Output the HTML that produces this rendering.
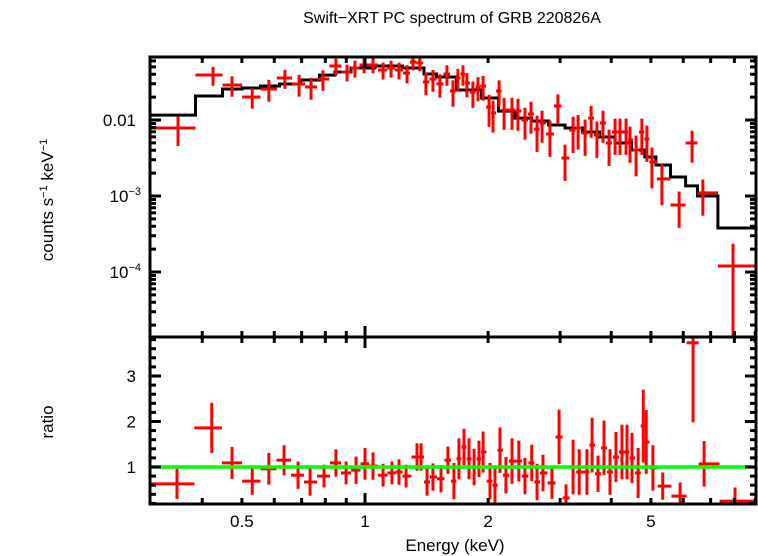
<!DOCTYPE html>
<html><head><meta charset="utf-8"><style>
body{margin:0;background:#fff}
svg{display:block}
text{font-family:"Liberation Sans",Arial,sans-serif;fill:#000}
</style></head><body>
<svg id="chart" width="758" height="556" viewBox="0 0 758 556" xmlns="http://www.w3.org/2000/svg">
<text x="452" y="23" font-size="16" text-anchor="middle">Swift−XRT PC spectrum of GRB 220826A</text>
<text x="455" y="551" font-size="17" text-anchor="middle">Energy (keV)</text>
<text transform="translate(53,200) rotate(-90)" font-size="17" text-anchor="middle">counts s<tspan font-size="11" dy="-6">−1</tspan><tspan dy="6"> keV</tspan><tspan font-size="11" dy="-6">−1</tspan></text>
<text transform="translate(53,422) rotate(-90)" font-size="17" text-anchor="middle">ratio</text>
<g id="g"></g>
</svg>
<script>
const topE=[0.349,0.425,0.473,0.530,0.582,0.637,0.690,0.738,0.789,0.849,0.904,0.945,0.995,1.046,1.107,1.158,1.211,1.267,1.310,1.362,1.409,1.466,1.525,1.586,1.641,1.687,1.736,1.775,1.836,1.889,1.944,2.011,2.056,2.127,2.188,2.288,2.366,2.461,2.546,2.634,2.710,2.833,2.963,3.083,3.227,3.319,3.452,3.572,3.690,3.818,3.951,4.087,4.202,4.348,4.446,4.600,4.753,4.890,5.030,5.321,5.862,6.305,6.700,7.94];
const topCounts=[0.00785,0.0391,0.0289,0.0201,0.0256,0.0357,0.0298,0.0272,0.0346,0.0514,0.0428,0.0483,0.053,0.053,0.0455,0.0483,0.0455,0.0415,0.058,0.0562,0.0316,0.0346,0.0298,0.0403,0.0241,0.0357,0.0403,0.0307,0.0233,0.0272,0.028,0.0148,0.0124,0.0241,0.0135,0.0135,0.0131,0.0100,0.0120,0.0076,0.00914,0.00654,0.0153,0.00316,0.00738,0.00785,0.00675,0.0106,0.00635,0.00914,0.00498,0.00695,0.00695,0.00695,0.00546,0.00403,0.00695,0.00562,0.0028,0.00168,0.000762,0.00498,0.0011,0.00012];
const topRelErr=[0.42,0.28,0.3,0.3,0.32,0.28,0.32,0.32,0.3,0.25,0.25,0.25,0.22,0.22,0.25,0.25,0.25,0.27,0.22,0.22,0.33,0.32,0.34,0.3,0.38,0.32,0.3,0.35,0.38,0.35,0.36,0.45,0.45,0.38,0.45,0.45,0.45,0.45,0.45,0.5,0.45,0.5,0.42,0.5,0.5,0.48,0.5,0.45,0.5,0.45,0.5,0.5,0.5,0.5,0.5,0.55,0.5,0.5,0.55,0.55,0.5,0.45,0.5,0.96];
const modelE=[0.349,0.425,0.473,0.530,0.582,0.656,0.738,0.812,0.879,0.972,1.151,1.325,1.466,1.525,1.836,2.021,2.224,2.433,2.679,2.948,3.227,3.591,3.906,4.277,4.700,4.973,5.321,5.862,6.305,6.700,7.94];
const modelV=[0.0116,0.0207,0.0256,0.0264,0.028,0.0298,0.0336,0.039,0.0428,0.0483,0.0514,0.0483,0.0403,0.0368,0.0248,0.0195,0.0131,0.0106,0.0097,0.0086,0.00785,0.00695,0.00597,0.00498,0.00403,0.00326,0.00256,0.00178,0.00136,0.0010,0.000379];
const ratioE=[0.347,0.422,0.473,0.530,0.582,0.634,0.686,0.734,0.794,0.849,0.899,0.951,1.0,1.046,1.107,1.164,1.211,1.260,1.340,1.371,1.418,1.466,1.534,1.595,1.650,1.697,1.746,1.796,1.848,1.900,1.944,2.021,2.079,2.138,2.211,2.288,2.378,2.461,2.557,2.634,2.724,2.865,2.982,3.101,3.227,3.340,3.488,3.591,3.713,3.840,3.972,4.108,4.249,4.371,4.496,4.654,4.790,4.871,5.057,5.345,5.895,6.341,6.747,8.03];
const ratioVal=[0.63,1.86,1.09,0.69,0.96,1.15,0.82,0.67,0.80,1.09,0.87,0.93,1.07,1.02,0.82,0.87,0.89,0.80,1.22,1.22,0.67,0.78,0.74,1.15,0.69,1.18,1.44,1.18,1.0,1.18,1.33,0.69,0.60,1.37,0.82,1.13,1.13,0.80,1.09,0.67,0.87,0.65,1.66,0.32,1.0,0.89,0.89,1.48,0.85,1.42,0.89,1.22,1.33,1.33,1.20,0.87,1.90,1.55,0.98,0.58,0.36,3.73,1.07,0.25];
const ratioErr=[0.33,0.55,0.35,0.3,0.35,0.33,0.3,0.3,0.25,0.3,0.25,0.3,0.35,0.3,0.25,0.25,0.28,0.25,0.3,0.3,0.3,0.3,0.3,0.3,0.4,0.45,0.4,0.45,0.4,0.4,0.45,0.4,0.4,0.5,0.4,0.5,0.45,0.4,0.4,0.4,0.4,0.35,0.6,0.3,0.6,0.5,0.5,0.6,0.4,0.6,0.5,0.55,0.6,0.6,0.55,0.55,0.8,0.7,0.5,0.3,0.3,1.75,0.5,0.3];
const topTickVals=[0.01,0.001,0.0001];
const topTickLabels=["0.01","10","10"];
const topTickExp=["","−3","−4"];
const ratioTicks=[1,2,3];
const xTickVals=[0.5,1,2,5];
const xTickLabels=["0.5","1","2","5"];

const L=150,R=756,T1=57,B1=337,T2=337,B2=504;
const xE=e=>365+409*Math.log10(e);
const yC=v=>120-76*(Math.log10(v)+2);
const yR=r=>467-45.5*(r-1);
const g=document.getElementById('g');
const NS='http://www.w3.org/2000/svg';
function el(tag,attrs,parent){const e=document.createElementNS(NS,tag);for(const k in attrs)e.setAttribute(k,attrs[k]);(parent||g).appendChild(e);return e;}
function line(x1,y1,x2,y2,c,w,name){const e=el('line',{x1,y1,x2,y2,stroke:c,'stroke-width':w});


return e;}
function edges(E){const ed=[];for(let i=0;i<E.length;i++){const le=Math.log10(E[i]);
const lo=i>0?(le+Math.log10(E[i-1]))/2:le-(Math.log10(E[1])-le)/2;
const hi=i<E.length-1?(le+Math.log10(E[i+1]))/2:le+(le-Math.log10(E[i-1]))/2;
ed.push([Math.pow(10,lo),Math.pow(10,hi)]);}return ed;}
const clampX=x=>Math.max(L,Math.min(R,x));
const clipY=(y,t,b)=>Math.max(t,Math.min(b,y));

const mEd=edges(modelE);
let d='';
for(let i=0;i<modelE.length;i++){const x0=i===0?L:clampX(xE(mEd[i][0])),x1=i===modelE.length-1?R:clampX(xE(mEd[i][1]));const y=yC(modelV[i]);
d+=(i===0?'M':'L')+x0.toFixed(1)+','+y.toFixed(1)+'L'+x1.toFixed(1)+','+y.toFixed(1);}
const mp=el('path',{d,fill:'none',stroke:'#000','stroke-width':3});



const tEd=edges(topE);
for(let i=0;i<topE.length;i++){
 const x0=i===0?L:clampX(xE(tEd[i][0])),x1=i===topE.length-1?R:clampX(xE(tEd[i][1]));
 const x=xE(topE[i]),y=yC(topCounts[i]);
 const hi=topCounts[i]*(1+topRelErr[i]),lo=topCounts[i]*(1-topRelErr[i]);
 const yl=lo>0?clipY(yC(lo),T1,B1):B1;
 line(x0,y,x1,y,'#f00',3,'data-point-xerr');
 line(x,clipY(yC(hi),T1,B1),x,yl,'#f00',3,'data-point-yerr');
}
const rEd=edges(ratioE);
for(let i=0;i<ratioE.length;i++){
 const x0=i===0?L:clampX(xE(rEd[i][0])),x1=i===ratioE.length-1?R:clampX(xE(rEd[i][1]));
 const x=xE(ratioE[i]),y=yR(ratioVal[i]);const er=ratioErr[i]||0.4;
 if(y>=T2&&y<=B2)line(x0,y,x1,y,'#f00',3,'ratio-point-xerr');
 line(x,clipY(yR(ratioVal[i]+er),T2,B2),x,clipY(yR(ratioVal[i]-er),T2,B2),'#f00',3,'ratio-point-yerr');
}
line(L,yR(1),R,yR(1),'#0f0',3.5,'unity-line');

for(const [t,b,n] of [[T1,B1,'top-panel-frame'],[T2,B2,'ratio-panel-frame']]){
 const r=el('rect',{x:L,y:t,width:R-L,height:b-t,fill:'none',stroke:'#000','stroke-width':3});
 
 
}
const xt=[0.4,0.5,0.6,0.7,0.8,0.9,1,2,3,4,5,6,7,8,9];
for(const v of xt){const x=xE(v);if(x<L||x>R)continue;const len=v===1?11:6;
 for(const [t,b] of [[T1,B1],[T2,B2]]){line(x,t,x,t+len,'#000',3,'x-tick');line(x,b,x,b-len,'#000',3,'x-tick');}}
xTickVals.forEach((v,i)=>{const t=el('text',{x:xE(v),y:527,'font-size':17,'text-anchor':'middle'});t.textContent=xTickLabels[i];

});
for(let dec=-5;dec<=-1;dec++)for(let m=1;m<10;m++){const v=m*Math.pow(10,dec);const y=yC(v);if(y<T1||y>B1)continue;const len=m===1?11:6;
 line(L,y,L+len,y,'#000',3,'y-tick');line(R,y,R-len,y,'#000',3,'y-tick');}
topTickVals.forEach((v,i)=>{const t=el('text',{x:136,y:yC(v)+6,'font-size':17,'text-anchor':'end'});
 if(topTickExp[i]){t.innerHTML=topTickLabels[i]+'<tspan font-size="11" dy="-7">'+topTickExp[i]+'</tspan>';t.setAttribute('x',141);}else t.textContent=topTickLabels[i];
 
 });
for(let k=2;k<=38;k++){const v=k/10;if(k%2)continue;const y=yR(v);if(y<T2||y>B2)continue;const len=(k%10===0)?11:6;
 line(L,y,L+len,y,'#000',3,'ratio-tick');line(R,y,R-len,y,'#000',3,'ratio-tick');}
ratioTicks.forEach(v=>{const t=el('text',{x:136,y:yR(v)+6,'font-size':17,'text-anchor':'end'});t.textContent=String(v);

});
</script>
</body></html>
